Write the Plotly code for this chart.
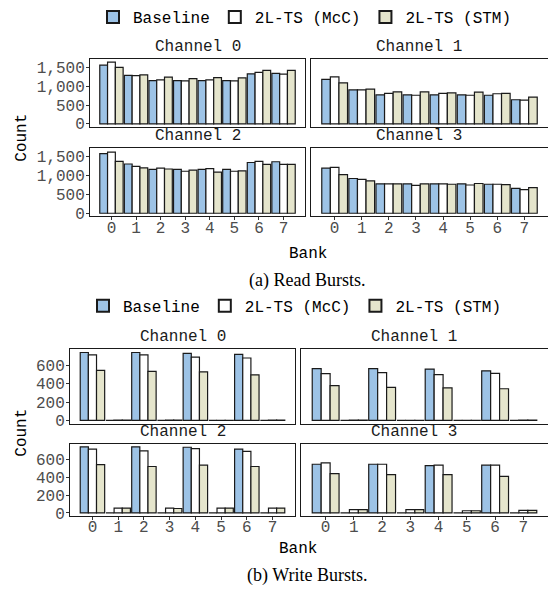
import plotly.graph_objects as go

banks = [0, 1, 2, 3, 4, 5, 6, 7]
channels = ["Channel 0", "Channel 1", "Channel 2", "Channel 3"]
series_names = ["Baseline", "2L-TS (McC)", "2L-TS (STM)"]

# Read bursts, per channel
read_baseline = [
    [1560, 1290, 1150, 1150, 1150, 1150, 1330, 1340],
    [1180, 900, 770, 770, 770, 770, 760, 640],
    [1560, 1290, 1150, 1150, 1150, 1150, 1330, 1350],
    [1180, 910, 770, 770, 770, 770, 760, 650],
]
read_mcc = [
    [1640, 1280, 1170, 1140, 1170, 1140, 1370, 1320],
    [1250, 900, 810, 760, 810, 760, 800, 630],
    [1600, 1230, 1180, 1100, 1170, 1100, 1360, 1280],
    [1200, 890, 770, 730, 770, 740, 760, 620],
]
read_stm = [
    [1500, 1300, 1240, 1200, 1230, 1220, 1420, 1420],
    [1090, 920, 850, 850, 820, 840, 810, 710],
    [1360, 1190, 1160, 1130, 1080, 1110, 1280, 1280],
    [1010, 850, 770, 770, 760, 780, 750, 670],
]

# Write bursts, per channel
write_baseline = [
    [740, 0, 740, 0, 730, 0, 720, 0],
    [565, 0, 565, 0, 560, 0, 540, 0],
    [740, 0, 740, 0, 735, 0, 715, 0],
    [545, 0, 545, 0, 530, 0, 535, 0],
]
write_mcc = [
    [715, 5, 715, 3, 690, 2, 680, 5],
    [510, 3, 520, 2, 500, 2, 513, 3],
    [715, 55, 695, 55, 720, 55, 690, 55],
    [560, 38, 545, 38, 535, 25, 535, 30],
]
write_stm = [
    [545, 5, 535, 3, 530, 2, 497, 5],
    [380, 3, 360, 2, 355, 2, 345, 3],
    [540, 55, 520, 50, 535, 55, 520, 55],
    [440, 38, 430, 38, 430, 25, 410, 28],
]

read_ticks = [0, 500, 1000, 1500]
write_ticks = [0, 200, 400, 600]
captions = ["(a) Read Bursts.", "(b) Write Bursts."]

colors = ["#9DC3E6", "#FFFFFF", "#E5E5CC"]
MONO = "Liberation Mono"
W, H = 548, 598

# panel geometry in pixels (x0, x1, y0_top, y1_bottom)
sets = [
    dict(data=[read_baseline, read_mcc, read_stm], ticks=read_ticks,
         left=(90, 305), right=(311, 548), rows=[(57, 126), (147, 217)],
         legend_y=14, bank_y=255, cap_y=282, count_y=137, legend_x=305),
    dict(data=[write_baseline, write_mcc, write_stm], ticks=write_ticks,
         left=(70, 295), right=(301, 548), rows=[(352, 428), (448, 522)],
         legend_y=308, bank_y=555, cap_y=582, count_y=437, legend_x=295),
]

fig = go.Figure()
layout = {}
annotations = []


def px_x(v):
    return v / W


def px_y(v):
    return 1 - v / H


for s, cfg in enumerate(sets):
    ymax = max(max(max(ch) for ch in ser) for ser in cfg["data"])
    ypad = ymax * 0.05
    yrange = [-ypad, ymax + ypad]
    xpad = 7.95 * 0.05
    xrange = [-0.475 - xpad, 7.475 + xpad]
    lw = cfg["left"][1] - cfg["left"][0]
    for c in range(4):
        k = s * 4 + c + 1
        col = c % 2
        row = c // 2
        x0, x1 = cfg["left"] if col == 0 else cfg["right"]
        y0, y1 = cfg["rows"][row]
        xa = "xaxis" if k == 1 else f"xaxis{k}"
        ya = "yaxis" if k == 1 else f"yaxis{k}"
        xref = "x" if k == 1 else f"x{k}"
        yref = "y" if k == 1 else f"y{k}"
        for j in range(3):
            fig.add_trace(go.Bar(
                x=banks, y=cfg["data"][j][c], name=series_names[j],
                marker=dict(color=colors[j], line=dict(color="#1a1a1a", width=1.2)),
                xaxis=xref, yaxis=yref,
                legend="legend" if s == 0 else "legend2",
                showlegend=(c == 0),
                offsetgroup=str(j),
            ))
        layout[xa] = dict(
            domain=[px_x(x0), min(px_x(x1), 1.0)], anchor=yref, range=xrange,
            showline=True, mirror=True, linecolor="#1a1a1a", linewidth=1,
            showgrid=False, zeroline=False,
            tickmode="array", tickvals=banks, ticktext=[str(b) for b in banks],
            showticklabels=(row == 1), ticks="outside" if row == 1 else "",
            ticklen=3, tickcolor="#333333", ticklabelstandoff=-7,
            tickfont=dict(family=MONO, size=16, color="#4D4D4D"),
        )
        layout[ya] = dict(
            domain=[px_y(y1), px_y(y0)], anchor=xref, range=yrange,
            showline=True, mirror=(col == 0), linecolor="#1a1a1a", linewidth=1,
            showgrid=False, zeroline=False,
            tickmode="array", tickvals=cfg["ticks"],
            ticktext=[f"{t:,}" for t in cfg["ticks"]],
            showticklabels=(col == 0), ticks="outside" if col == 0 else "",
            ticklen=3, tickcolor="#333333", ticklabelstandoff=-2,
            tickfont=dict(family=MONO, size=16, color="#4D4D4D"),
        )
        cx = (x0 + x1) / 2 if col == 0 else x0 + lw / 2
        annotations.append(dict(
            text=channels[c], x=px_x(cx),
            y=px_y(y0 - 1), xref="paper", yref="paper",
            xanchor="center", yanchor="bottom", showarrow=False,
            font=dict(family=MONO, size=16, color="#1A1A1A"),
        ))
    annotations.append(dict(
        text="Bank", x=px_x((cfg["left"][0] + cfg["right"][0] + lw) / 2),
        y=px_y(cfg["bank_y"]), xref="paper", yref="paper",
        xanchor="center", yanchor="middle", showarrow=False,
        font=dict(family=MONO, size=16, color="#000000"),
    ))
    annotations.append(dict(
        text="Count", x=px_x(22), y=px_y(cfg["count_y"]), xref="paper", yref="paper",
        xanchor="center", yanchor="middle", showarrow=False, textangle=-90,
        font=dict(family=MONO, size=16, color="#000000"),
    ))
    annotations.append(dict(
        text=captions[s], x=px_x(307), y=px_y(cfg["cap_y"]), xref="paper", yref="paper",
        xanchor="center", yanchor="middle", showarrow=False,
        font=dict(family="Liberation Serif", size=18, color="#000000"),
    ))
    legname = "legend" if s == 0 else "legend2"
    layout[legname] = dict(
        orientation="h", x=px_x(cfg["legend_x"]), y=px_y(cfg["legend_y"]),
        xanchor="center", yanchor="middle", bgcolor="rgba(0,0,0,0)",
        font=dict(family=MONO, size=16, color="#000000"),
        itemsizing="constant", traceorder="normal",
    )

fig.update_layout(
    width=W, height=H, margin=dict(l=0, r=0, t=0, b=0),
    paper_bgcolor="white", plot_bgcolor="white",
    barmode="group", bargap=0.05, bargroupgap=0.0,
    annotations=annotations, **layout,
)

fig.write_html(
    "out.html",
    config={"displayModeBar": False},
    post_script="document.body.style.margin='0px';document.body.style.overflow='hidden';",
)
